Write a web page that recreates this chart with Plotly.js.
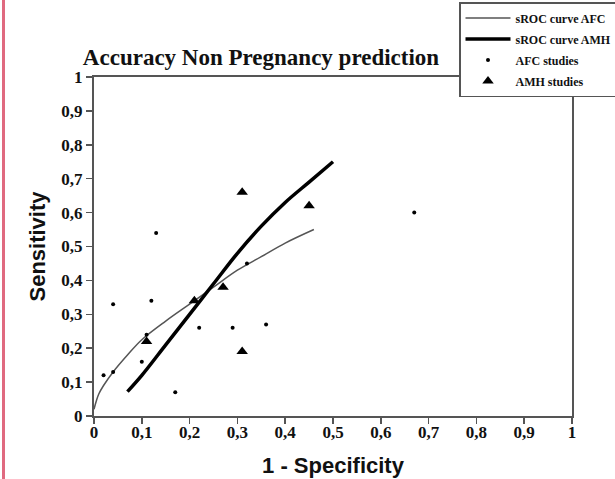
<!DOCTYPE html>
<html>
<head>
<meta charset="utf-8">
<script src="https://cdn.plot.ly/plotly-3.0.1.min.js"></script>
<style>
  html, body { margin: 0; padding: 0; background: #fff; }
  #wrap { position: relative; width: 615px; height: 479px; }
  #bar { position: absolute; left: 2px; top: 0; width: 3px; height: 479px; background: #e06a80; z-index: 5; }
  #chart { width: 615px; height: 479px; }
</style>
</head>
<body>
<div id="wrap"><div id="bar"></div><div id="chart"></div></div>
<script>
// sROC curve AFC (thin line)
const afcCurveX = [0, 0.005, 0.01, 0.02, 0.04, 0.07, 0.1, 0.15, 0.2, 0.25, 0.3, 0.35, 0.4, 0.46];
const afcCurveY = [0.02, 0.045, 0.065, 0.09, 0.13, 0.18, 0.225, 0.28, 0.33, 0.38, 0.43, 0.47, 0.51, 0.55];
// sROC curve AMH (thick line)
const amhCurveX = [0.07, 0.1, 0.15, 0.2, 0.25, 0.3, 0.35, 0.4, 0.45, 0.5];
const amhCurveY = [0.072, 0.12, 0.21, 0.30, 0.39, 0.48, 0.56, 0.63, 0.69, 0.75];
// AFC studies (dots)
const afcStudiesX = [0.02, 0.04, 0.04, 0.13, 0.12, 0.10, 0.11, 0.17, 0.22, 0.29, 0.36, 0.32, 0.67];
const afcStudiesY = [0.12, 0.13, 0.33, 0.54, 0.34, 0.16, 0.24, 0.07, 0.26, 0.26, 0.27, 0.45, 0.60];
// AMH studies (triangles)
const amhStudiesX = [0.31, 0.45, 0.27, 0.21, 0.11, 0.31];
const amhStudiesY = [0.66, 0.62, 0.38, 0.34, 0.22, 0.19];
const tickVals = [0, 0.1, 0.2, 0.3, 0.4, 0.5, 0.6, 0.7, 0.8, 0.9, 1];

const serif = "Liberation Serif, Times New Roman, serif";
const sans = "Liberation Sans, Arial, sans-serif";

const traces = [
  { x: afcCurveX, y: afcCurveY, mode: 'lines', name: 'sROC curve AFC', legendgroup: 'a',
    line: { color: '#555555', width: 1.5, shape: 'spline', smoothing: 1 } },
  { x: amhCurveX, y: amhCurveY, mode: 'lines', name: 'sROC curve AMH', legendgroup: 'b',
    line: { color: '#000000', width: 3.5, shape: 'spline', smoothing: 1 } },
  { x: afcStudiesX, y: afcStudiesY, mode: 'markers', name: 'AFC studies', legendgroup: 'c',
    marker: { color: '#000', size: 4, symbol: 'circle' } },
  { x: amhStudiesX, y: amhStudiesY, mode: 'markers', name: 'AMH studies', legendgroup: 'd',
    marker: { color: '#000', size: 10, symbol: 'triangle-up' } }
];

const axisCommon = {
  range: [0, 1], tickvals: tickVals, showgrid: false, zeroline: false,
  showline: true, linecolor: '#555', linewidth: 2, mirror: true,
  ticks: 'outside', ticklen: 6, tickwidth: 1.5, tickcolor: '#555',
  tickfont: { family: serif, size: 17, color: '#111', weight: 700 }
};

const layout = {
  width: 615, height: 479,
  margin: { l: 94, r: 43, t: 77, b: 63, autoexpand: false },
  paper_bgcolor: '#fff', plot_bgcolor: '#fff',
  separators: ', ',
  title: { text: 'Accuracy Non Pregnancy prediction', x: 261 / 615, xanchor: 'center', y: 1 - 57 / 479, yanchor: 'middle',
    font: { family: serif, size: 23, color: '#111', weight: 700 } },
  xaxis: Object.assign({}, axisCommon, {
    ticklabelstandoff: -6,
    title: { text: '1 - Specificity', standoff: 16, font: { family: sans, size: 22, color: '#111', weight: 700 } }
  }),
  yaxis: Object.assign({}, axisCommon, {
    title: { text: 'Sensitivity', standoff: 10, font: { family: sans, size: 22, color: '#111', weight: 700 } }
  }),
  showlegend: true,
  legend: {
    x: (459 - 94) / 478, xanchor: 'left', y: (416 - 2) / 339, yanchor: 'top',
    bgcolor: '#fff', bordercolor: '#555', borderwidth: 1.5,
    font: { family: serif, size: 12, color: '#111', weight: 700 },
    traceorder: 'grouped', tracegroupgap: 2, itemwidth: 45
  }
};

Plotly.newPlot('chart', traces, layout, { displayModeBar: false, staticPlot: true });
</script>
</body>
</html>
